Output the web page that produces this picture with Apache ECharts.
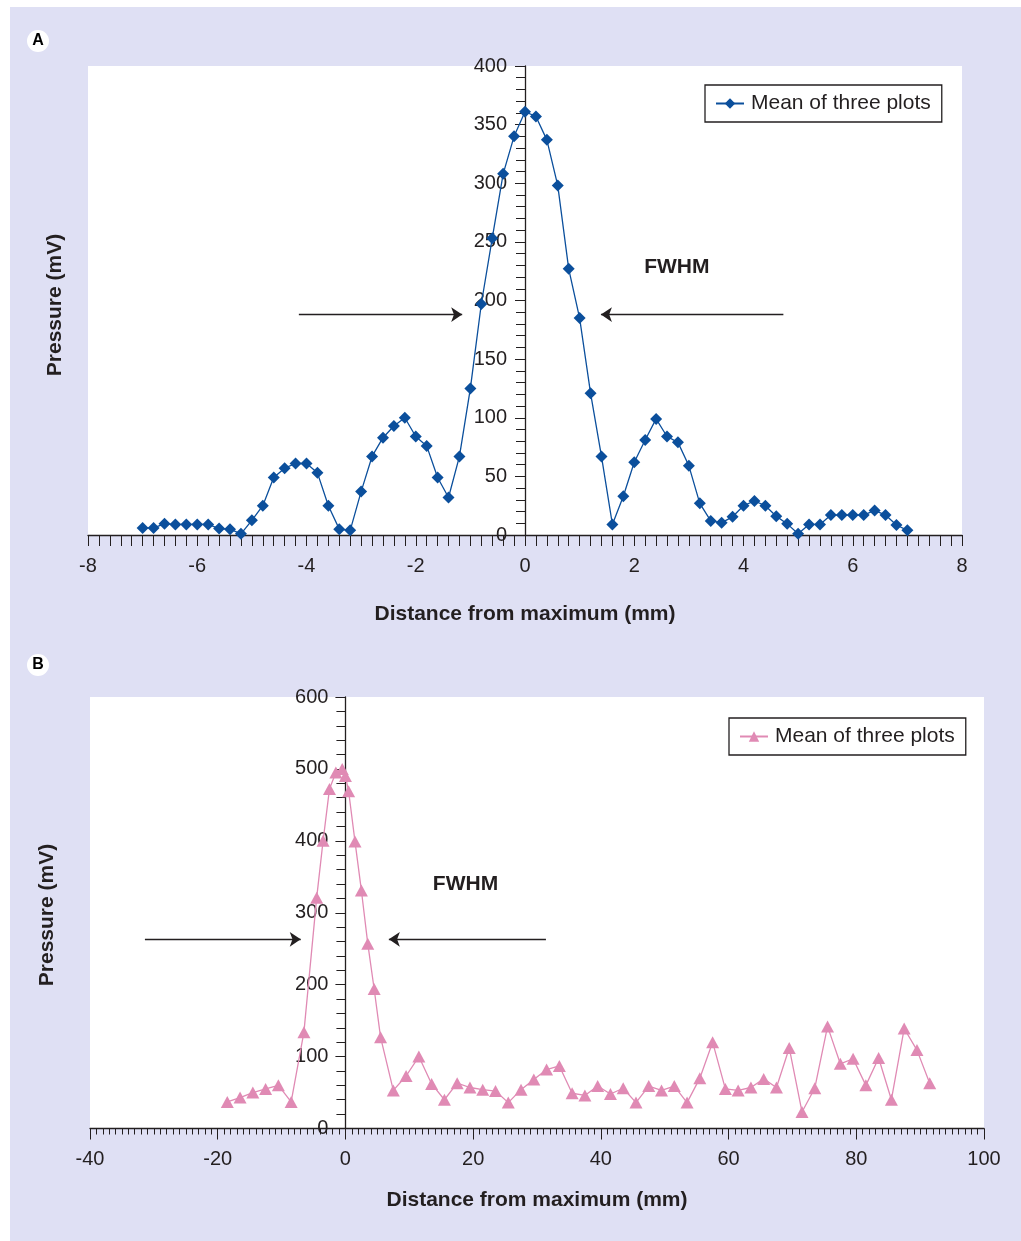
<!DOCTYPE html>
<html>
<head>
<meta charset="utf-8">
<title>Pressure profiles</title>
<script src="https://cdn.jsdelivr.net/npm/echarts@6/dist/echarts.min.js"></script>
<style>
  html, body { margin: 0; padding: 0; background: #fff; }
  #bg { position: absolute; left: 10px; top: 7px; width: 1011px; height: 1234px; background: #dfe0f4; }
  #chart { position: absolute; left: 0; top: 0; width: 1021px; height: 1241px; }
</style>
</head>
<body>
<div id="bg"></div>
<div id="chart"></div>
<script>
// panel A: distance (mm) and mean pressure (mV)
var distA = [-7, -6.8, -6.6, -6.4, -6.2, -6, -5.8, -5.6, -5.4, -5.2,
  -5, -4.8, -4.6, -4.4, -4.2, -4, -3.8, -3.6, -3.4, -3.2,
  -3, -2.8, -2.6, -2.4, -2.2, -2, -1.8, -1.6, -1.4, -1.2,
  -1, -0.8, -0.6, -0.4, -0.2, 0, 0.2, 0.4, 0.6, 0.8,
  1, 1.2, 1.4, 1.6, 1.8, 2, 2.2, 2.4, 2.6, 2.8,
  3, 3.2, 3.4, 3.6, 3.8, 4, 4.2, 4.4, 4.6, 4.8,
  5, 5.2, 5.4, 5.6, 5.8, 6, 6.2, 6.4, 6.6, 6.8, 7];
var pressureA = [6, 6, 9.5, 9, 9, 9, 9, 5.5, 5, 1,
  12.5, 25, 49, 57, 61, 61, 53, 25, 5, 4,
  37, 67, 83, 93, 100, 84, 76, 49, 32, 67,
  125, 197, 253, 308, 340, 361, 357, 337, 298, 227,
  185, 121, 67, 9, 33, 62, 81, 99, 84, 79,
  59, 27, 12, 10.5, 15.5, 25, 29, 25, 16, 9.5,
  1, 9, 9, 17, 17, 17, 17, 21, 17, 8.5, 4];

// panel B
var distB = [-18.5, -16.5, -14.5, -12.5, -10.5, -8.5, -6.5, -4.5, -3.5, -2.5,
  -1.5, -0.5, 0, 0.5, 1.5, 2.5, 3.5, 4.5, 5.5, 7.5,
  9.5, 11.5, 13.5, 15.5, 17.5, 19.5, 21.5, 23.5, 25.5, 27.5,
  29.5, 31.5, 33.5, 35.5, 37.5, 39.5, 41.5, 43.5, 45.5, 47.5,
  49.5, 51.5, 53.5, 55.5, 57.5, 59.5, 61.5, 63.5, 65.5, 67.5,
  69.5, 71.5, 73.5, 75.5, 77.5, 79.5, 81.5, 83.5, 85.5, 87.5,
  89.5, 91.5];
var pressureB = [37, 43, 50, 55, 60, 37, 134, 321, 400, 472,
  495, 500, 490, 469, 399, 331, 257, 194, 127, 53,
  73, 100, 62, 40, 63, 57, 54, 52, 36, 54,
  68, 82, 87, 49, 46, 59, 48, 56, 36, 59,
  53, 59, 36, 70, 120, 55, 53, 57, 69, 57,
  112, 23, 56, 142, 90, 97, 60, 98, 40, 139,
  109, 63];

var seriesNameA = 'A';
var seriesNameB = 'B';
var legendText = 'Mean of three plots';

var ink = '#231f20';
var blue = '#0b4f9c';
var pink = '#e08ab4';
var font = '"Liberation Sans", Arial, Helvetica, sans-serif';

function zip(xs, ys) {
  return xs.map(function (x, i) { return [x, ys[i]]; });
}

var myChart = echarts.init(document.getElementById('chart'));

function valueAxis(opt) {
  return Object.assign({
    type: 'value',
    axisLine: { show: true, onZero: false, lineStyle: { color: ink, width: 1.3 } },
    axisTick: { show: true, length: 10, lineStyle: { color: ink, width: 1 } },
    minorTick: { show: true, length: 10, lineStyle: { color: ink, width: 1 } },
    splitLine: { show: false },
    minorSplitLine: { show: false },
    axisLabel: { color: ink, fontSize: 20, fontFamily: font }
  }, opt);
}

function legendBox(name, left, top) {
  return {
    data: [name],
    left: left,
    top: top,
    padding: [8, 11, 8, 10],
    borderColor: ink,
    borderWidth: 1.3,
    backgroundColor: '#fff',
    itemWidth: 28,
    itemHeight: 13,
    selectedMode: false,
    formatter: function () { return legendText; },
    textStyle: { color: ink, fontSize: 21, fontFamily: font, padding: [0, 0, 0, 2] }
  };
}

var arrowLine = {
  silent: true,
  symbol: ['none', 'arrow'],
  symbolSize: 11,
  lineStyle: { color: ink, width: 1.3, type: 'solid' },
  label: { show: false },
  animation: false
};

function fwhmPoint(x, y) {
  return {
    silent: true,
    symbol: 'circle',
    symbolSize: 0,
    label: {
      show: true, position: 'inside', formatter: 'FWHM',
      color: ink, fontSize: 21, fontWeight: 'bold', fontFamily: font
    },
    data: [{ coord: [x, y] }],
    animation: false
  };
}

var titleStyle = { color: ink, fontSize: 21, fontWeight: 'bold', fontFamily: font };

var gridA = { left: 88, right: 59, top: 66, bottom: 706 };
var gridB = { left: 90, right: 37, top: 697, bottom: 112.5 };

var option = {
  animation: false,
  textStyle: { fontFamily: font },
  grid: [
    Object.assign({ show: true, backgroundColor: '#fff', borderWidth: 0 }, gridA),
    Object.assign({ show: true, backgroundColor: '#fff', borderWidth: 0 }, gridB)
  ],
  legend: [legendBox(seriesNameA, 705, 85), legendBox(seriesNameB, 729, 718)],
  xAxis: [
    valueAxis({
      gridIndex: 0, min: -8, max: 8, interval: 2,
      axisTick: { show: true, length: 11, lineStyle: { color: ink, width: 1 } },
      minorTick: { show: true, splitNumber: 10, length: 11, lineStyle: { color: ink, width: 1 } },
      axisLabel: { color: ink, fontSize: 20, fontFamily: font, margin: 21 },
      name: 'Distance from maximum (mm)', nameLocation: 'middle', nameGap: 69,
      nameTextStyle: titleStyle
    }),
    valueAxis({
      gridIndex: 1, min: -40, max: 100, interval: 20,
      axisTick: { show: true, length: 11, lineStyle: { color: ink, width: 1 } },
      minorTick: { show: true, splitNumber: 20, length: 6, lineStyle: { color: ink, width: 1 } },
      axisLabel: { color: ink, fontSize: 20, fontFamily: font, margin: 21 },
      name: 'Distance from maximum (mm)', nameLocation: 'middle', nameGap: 61,
      nameTextStyle: titleStyle
    })
  ],
  yAxis: [
    valueAxis({
      gridIndex: 0, min: 0, max: 400, interval: 50,
      minorTick: { show: true, splitNumber: 5, length: 9, lineStyle: { color: ink, width: 1 } },
      axisLabel: { color: ink, fontSize: 20, fontFamily: font, margin: 18 }
    }),
    valueAxis({
      gridIndex: 1, min: 0, max: 600, interval: 100,
      minorTick: { show: true, splitNumber: 5, length: 9, lineStyle: { color: ink, width: 1 } },
      axisLabel: { color: ink, fontSize: 20, fontFamily: font, margin: 17 }
    })
  ],
  series: [
    {
      name: seriesNameA,
      type: 'line',
      xAxisIndex: 0,
      yAxisIndex: 0,
      data: zip(distA, pressureA),
      symbol: 'diamond',
      symbolSize: 12,
      itemStyle: { color: blue },
      lineStyle: { color: blue, width: 1.3 },
      markLine: Object.assign({
        data: [
          [{ coord: [-4.14, 188] }, { coord: [-1.15, 188] }],
          [{ coord: [4.73, 188] }, { coord: [1.39, 188] }]
        ]
      }, arrowLine),
      markPoint: fwhmPoint(2.78, 228)
    },
    {
      name: seriesNameB,
      type: 'line',
      xAxisIndex: 1,
      yAxisIndex: 1,
      data: zip(distB, pressureB),
      symbol: 'triangle',
      symbolSize: [13, 12],
      itemStyle: { color: pink },
      lineStyle: { color: pink, width: 1.3 },
      markLine: Object.assign({
        data: [
          [{ coord: [-31.4, 263] }, { coord: [-7.0, 263] }],
          [{ coord: [31.4, 263] }, { coord: [6.8, 263] }]
        ]
      }, arrowLine),
      markPoint: fwhmPoint(18.8, 339)
    }
  ],
  graphic: [
    { type: 'circle', shape: { cx: 38, cy: 41, r: 11 }, style: { fill: '#fff' } },
    { type: 'text', x: 38, y: 41, style: { text: 'A', fill: '#000', font: 'bold 16px ' + font, align: 'center', verticalAlign: 'middle', textAlign: 'center', textVerticalAlign: 'middle' } },
    { type: 'circle', shape: { cx: 38, cy: 665, r: 11 }, style: { fill: '#fff' } },
    { type: 'text', x: 38, y: 665, style: { text: 'B', fill: '#000', font: 'bold 16px ' + font, align: 'center', verticalAlign: 'middle', textAlign: 'center', textVerticalAlign: 'middle' } },
    { type: 'text', x: 55, y: 305, rotation: Math.PI / 2, style: { text: 'Pressure (mV)', fill: ink, font: 'bold 21px ' + font, align: 'center', verticalAlign: 'middle', textAlign: 'center', textVerticalAlign: 'middle' } },
    { type: 'text', x: 47, y: 915, rotation: Math.PI / 2, style: { text: 'Pressure (mV)', fill: ink, font: 'bold 21px ' + font, align: 'center', verticalAlign: 'middle', textAlign: 'center', textVerticalAlign: 'middle' } }
  ]
};

myChart.setOption(option);

// move each y axis (line, ticks and labels) to x = 0
var zeroA = myChart.convertToPixel({ xAxisIndex: 0 }, 0);
var zeroB = myChart.convertToPixel({ xAxisIndex: 1 }, 0);
myChart.setOption({
  yAxis: [
    { offset: -(zeroA - gridA.left) },
    { offset: -(zeroB - gridB.left) }
  ]
});
</script>
</body>
</html>
